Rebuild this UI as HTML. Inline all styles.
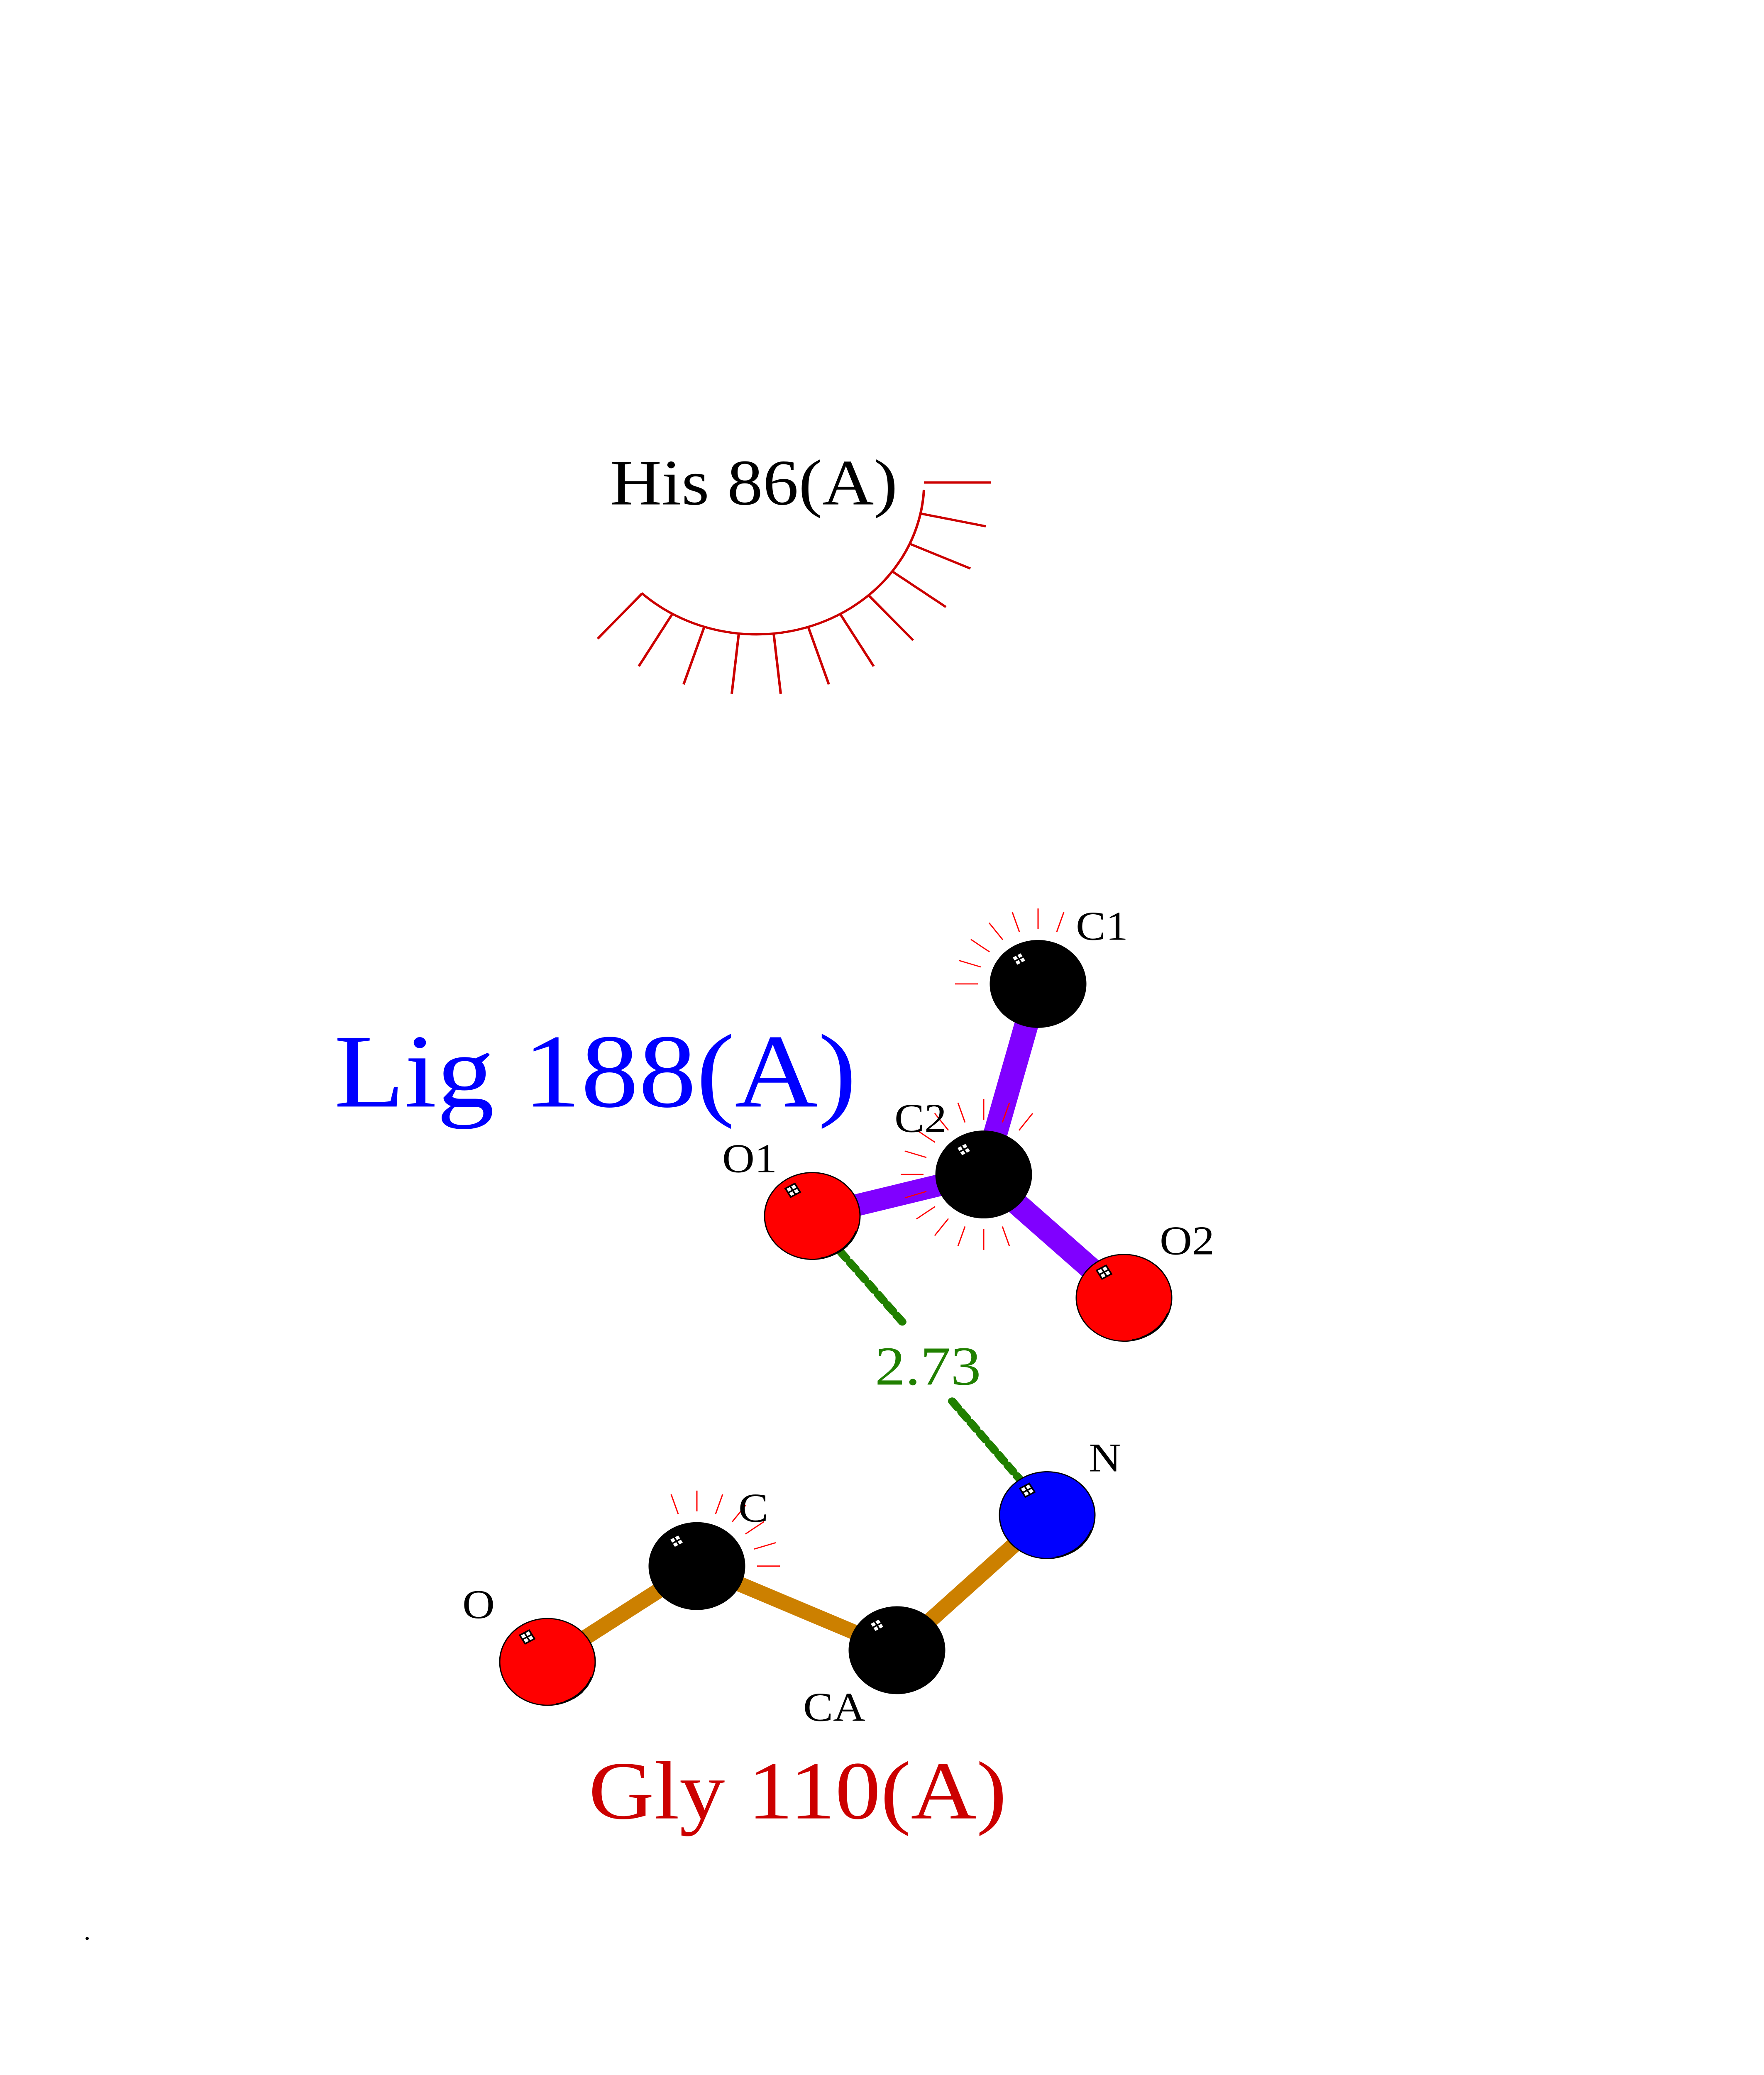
<!DOCTYPE html>
<html><head><meta charset="utf-8"><style>
html,body{margin:0;padding:0;background:#fff;width:100%;height:100%;overflow:hidden;}
svg{display:block;width:100vw;height:100vh;}
</style></head><body>
<svg viewBox="0 0 4250 5500" preserveAspectRatio="none" xmlns="http://www.w3.org/2000/svg">
<defs>
<g id="hl"><g transform="rotate(-30)"><rect x="-13" y="-13" width="26" height="26" fill="#fff" stroke="#000" stroke-width="4"/><line x1="0" y1="-13" x2="0" y2="13" stroke="#000" stroke-width="4"/><line x1="-13" y1="0" x2="13" y2="0" stroke="#000" stroke-width="4"/></g></g>
<g id="refl" fill="none" stroke="#000" stroke-width="4"><path d="M 106 40 A 112 112 0 0 1 40 106"/><path d="M 98 60 A 112 112 0 0 1 20 112" /><path d="M 85 78 A 112 112 0 0 1 60 98"/></g>
</defs>
<text x="1470" y="1337" font-family="Liberation Serif, serif" font-size="172" fill="#000">His 86(A)</text>
<g stroke="#cc0000" stroke-width="6" fill="none">
<path d="M 2226 1298 A 404 404 0 0 1 1546 1572"/>
<line x1="2226" y1="1279" x2="2388" y2="1279"/>
<line x1="2217" y1="1361" x2="2375" y2="1395"/>
<line x1="2191" y1="1441" x2="2338" y2="1507"/>
<line x1="2149" y1="1514" x2="2279" y2="1609"/>
<line x1="2092" y1="1577" x2="2200" y2="1697"/>
<line x1="2024" y1="1627" x2="2105" y2="1766"/>
<line x1="1947" y1="1661" x2="1997" y2="1814"/>
<line x1="1864" y1="1679" x2="1881" y2="1839"/>
<line x1="1780" y1="1679" x2="1763" y2="1839"/>
<line x1="1697" y1="1661" x2="1647" y2="1814"/>
<line x1="1620" y1="1627" x2="1539" y2="1766"/>
<line x1="1547" y1="1573" x2="1440" y2="1693"/>
</g>
<text x="805" y="2933" font-family="Liberation Serif, serif" font-size="278" fill="#0000ff">Lig 188(A)</text>
<g stroke="#8000ff" stroke-width="58" stroke-linecap="butt">
<line x1="2501" y1="2608" x2="2370" y2="3113"/>
<line x1="2370" y1="3113" x2="1957" y2="3223"/>
<line x1="2370" y1="3113" x2="2708" y2="3440"/>
</g>
<g stroke="#cc8000" stroke-width="40">
<line x1="1319" y1="4405" x2="1679" y2="4151"/>
<line x1="1679" y1="4151" x2="2161" y2="4374"/>
<line x1="2161" y1="4374" x2="2523" y2="4016"/>
</g>
<g stroke="#208000" stroke-width="20" stroke-linecap="round" stroke-dasharray="22 14" fill="none">
<line x1="2025" y1="3318" x2="2175" y2="3505"/>
<line x1="2294" y1="3714" x2="2457" y2="3921"/>
</g>
<text x="2108" y="3670" font-family="Liberation Serif, serif" font-size="146" fill="#208000">2.73</text>
<g stroke="#ff0000" stroke-width="3">
<g transform="translate(2501,2608)">
<line x1="45" y1="-138" x2="62" y2="-190"/>
<line x1="0" y1="-145" x2="0" y2="-200"/>
<line x1="-45" y1="-138" x2="-62" y2="-190"/>
<line x1="-85" y1="-117" x2="-118" y2="-162"/>
<line x1="-117" y1="-85" x2="-162" y2="-118"/>
<line x1="-138" y1="-45" x2="-190" y2="-62"/>
<line x1="-145" y1="0" x2="-200" y2="0"/>
</g>
<g transform="translate(2370,3113)">
<line x1="85" y1="-117" x2="118" y2="-162"/>
<line x1="45" y1="-138" x2="62" y2="-190"/>
<line x1="0" y1="-145" x2="0" y2="-200"/>
<line x1="-45" y1="-138" x2="-62" y2="-190"/>
<line x1="-85" y1="-117" x2="-118" y2="-162"/>
<line x1="-117" y1="-85" x2="-162" y2="-118"/>
<line x1="-138" y1="-45" x2="-190" y2="-62"/>
<line x1="-145" y1="0" x2="-200" y2="0"/>
<line x1="-138" y1="45" x2="-190" y2="62"/>
<line x1="-117" y1="85" x2="-162" y2="118"/>
<line x1="-85" y1="117" x2="-118" y2="162"/>
<line x1="-45" y1="138" x2="-62" y2="190"/>
<line x1="0" y1="145" x2="0" y2="200"/>
<line x1="45" y1="138" x2="62" y2="190"/>
</g>
<g transform="translate(1679,4151)">
<line x1="145" y1="0" x2="200" y2="0"/>
<line x1="138" y1="-45" x2="190" y2="-62"/>
<line x1="117" y1="-85" x2="162" y2="-118"/>
<line x1="85" y1="-117" x2="118" y2="-162"/>
<line x1="45" y1="-138" x2="62" y2="-190"/>
<line x1="0" y1="-145" x2="0" y2="-200"/>
<line x1="-45" y1="-138" x2="-62" y2="-190"/>
</g>
</g>
<g stroke="#000" stroke-width="3">
<circle cx="2501" cy="2608" r="115" fill="#000"/>
<circle cx="2370" cy="3113" r="115" fill="#000"/>
<circle cx="1957" cy="3223" r="115" fill="#ff0000"/>
<circle cx="2708" cy="3440" r="115" fill="#ff0000"/>
<circle cx="2523" cy="4016" r="115" fill="#0000ff"/>
<circle cx="1679" cy="4151" r="115" fill="#000"/>
<circle cx="2161" cy="4374" r="115" fill="#000"/>
<circle cx="1319" cy="4405" r="115" fill="#ff0000"/>
</g>
<use href="#refl" x="1957" y="3223"/>
<use href="#refl" x="2708" y="3440"/>
<use href="#refl" x="2523" y="4016"/>
<use href="#refl" x="1319" y="4405"/>
<use href="#hl" x="2455" y="2542"/>
<use href="#hl" x="2322" y="3047"/>
<use href="#hl" x="1910" y="3155"/>
<use href="#hl" x="2660" y="3372"/>
<use href="#hl" x="2475" y="3950"/>
<use href="#hl" x="1630" y="4085"/>
<use href="#hl" x="2113" y="4308"/>
<use href="#hl" x="1270" y="4339"/>
<g font-family="Liberation Serif, serif" font-size="108" fill="#000">
<text x="2592" y="2491">C1</text>
<text x="2155" y="3000">C2</text>
<text x="1740" y="3107">O1</text>
<text x="2794" y="3325">O2</text>
<text x="2623" y="3900">N</text>
<text x="1779" y="4033">C</text>
<text x="1114" y="4289">O</text>
<text x="1935" y="4561">CA</text>
</g>
<text x="1418" y="4820" font-family="Liberation Serif, serif" font-size="219" fill="#cc0000">Gly 110(A)</text>
<circle cx="210" cy="5138" r="4" fill="#000"/>
</svg>
</body></html>
